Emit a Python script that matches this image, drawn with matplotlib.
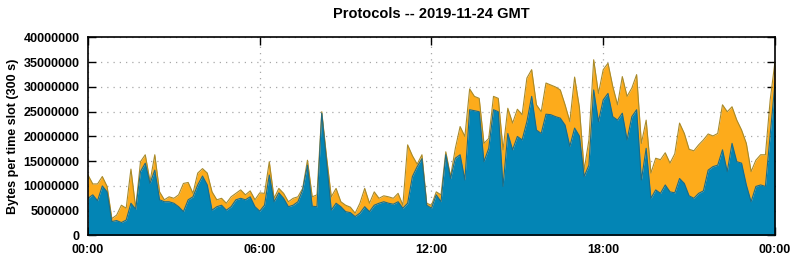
import numpy as np
import matplotlib
matplotlib.use("Agg")
import matplotlib.pyplot as plt

# bytes per 5-minute slot, read every 10 minutes (millions), 00:00 .. 24:00
blue_m = [
    7.5, 8.2, 7.0, 10.0, 8.8, 2.8, 3.0, 2.6, 3.1, 6.5, 5.3, 12.9,
    14.6, 10.5, 13.2, 7.2, 6.8, 6.8, 6.5, 5.8, 4.8, 7.2, 7.8, 10.2,
    12.0, 10.2, 5.1, 5.8, 6.1, 5.1, 5.8, 7.2, 7.5, 7.2, 7.8, 5.8,
    4.9, 6.1, 12.2, 6.8, 8.6, 7.5, 5.8, 6.1, 6.8, 9.2, 14.2, 5.9,
    5.8, 24.7, 14.9, 5.1, 6.5, 5.8, 4.8, 4.6, 3.8, 4.5, 5.8, 4.8,
    6.1, 6.5, 6.8, 6.5, 6.3, 6.8, 5.5, 6.5, 11.9, 13.9, 15.5, 6.1,
    5.5, 8.2, 6.8, 16.3, 11.5, 15.6, 16.3, 11.2, 25.4, 25.2, 25.0, 14.9,
    17.6, 25.4, 25.0, 9.9, 20.6, 17.3, 20.0, 19.3, 23.0, 28.1, 21.3, 20.6,
    24.5, 24.4, 24.0, 23.7, 22.3, 18.0, 21.7, 20.1, 11.9, 14.2, 29.4, 23.0,
    27.4, 28.7, 24.0, 23.3, 24.7, 19.3, 24.0, 25.4, 11.2, 17.6, 7.5, 9.2,
    8.5, 10.2, 8.8, 8.6, 11.5, 10.5, 8.0, 7.5, 8.5, 9.0, 13.2, 13.9,
    14.2, 17.3, 12.9, 18.6, 14.9, 14.6, 10.2, 6.8, 9.9, 10.2, 9.9, 20.3,
    30.8,
]
orange_m = [
    4.7, 2.2, 3.4, 1.9, 1.1, 0.6, 1.1, 3.5, 2.4, 6.9, 0.2, 2.0,
    1.7, 0.4, 3.1, 1.6, 0.4, 1.0, 1.0, 2.4, 5.7, 3.5, 0.7, 2.4,
    1.5, 2.4, 3.7, 1.4, 1.4, 1.4, 2.0, 1.3, 1.7, 1.0, 1.2, 1.4,
    3.7, 2.4, 2.7, 0.7, 0.9, 1.0, 1.0, 1.4, 1.0, 0.3, 1.0, 1.9,
    2.4, 0.3, 1.0, 2.7, 3.0, 1.0, 1.3, 1.1, 0.7, 2.0, 3.7, 1.7,
    2.7, 1.0, 1.2, 1.3, 1.2, 1.7, 0.6, 11.8, 4.2, 0.5, 0.8, 0.4,
    0.6, 0.6, 1.4, 0.6, 0.4, 2.0, 5.7, 8.8, 4.2, 2.9, 2.7, 3.7,
    2.0, 2.7, 2.7, 7.4, 5.1, 5.4, 5.5, 5.1, 8.8, 5.4, 5.1, 4.4,
    6.3, 6.0, 6.0, 5.7, 4.1, 5.0, 10.3, 5.8, 1.3, 5.1, 6.1, 5.7,
    6.1, 6.1, 6.1, 3.1, 7.4, 8.8, 5.8, 7.1, 7.4, 5.7, 5.1, 6.4,
    6.8, 6.5, 5.8, 7.9, 11.2, 10.1, 9.4, 9.6, 9.8, 10.3, 7.3, 6.2,
    6.4, 9.1, 12.1, 7.4, 8.4, 6.7, 8.4, 6.1, 5.3, 6.1, 6.4, 7.1,
    4.3,
]
hour_ticks = [0, 6, 12, 18, 24]
hour_labels = ["00:00", "06:00", "12:00", "18:00", "00:00"]

blue = np.array(blue_m) * 1e6
orange = np.array(orange_m) * 1e6
hours = np.arange(len(blue)) * 10 / 60.0
top = blue + orange

plt.rcParams["font.family"] = ["Liberation Sans", "DejaVu Sans"]
plt.rcParams["font.weight"] = "bold"

fig = plt.figure(figsize=(7.95, 2.6), dpi=100)
ax = fig.add_axes([0.1107, 0.0946, 0.8641, 0.7612])

ax.fill_between(hours, blue, top, color="#fdab1b", lw=0, zorder=2)
ax.plot(hours, top, color="#a88a2a", lw=0.8, zorder=2.2)
ax.fill_between(hours, 0, blue, color="#0385b5", lw=0, zorder=2.1)
ax.plot(hours, blue, color="#1d6b86", lw=0.8, zorder=2.3)

ax.set_xlim(0, 24)
ax.set_ylim(0, 40000000)
ax.set_xticks(hour_ticks)
ax.set_xticklabels(hour_labels)
ax.set_yticks(np.arange(0, 40000001, 5000000))
ax.set_yticklabels([str(v) for v in range(0, 40000001, 5000000)])
ax.tick_params(direction="in", length=6, width=1, top=True, right=True,
               labelsize=9, pad=6)
for lab in ax.get_xticklabels() + ax.get_yticklabels():
    lab.set_fontweight("bold")

ax.set_axisbelow(True)
ax.grid(True, color="#a8a8a8", lw=0.9, linestyle=(0, (1, 4)))
for s in ax.spines.values():
    s.set_linewidth(1.2)
    s.set_zorder(3)

ax.set_ylabel("Bytes per time slot (300 s)", fontsize=9, fontweight="bold",
              labelpad=3)
ax.set_title("Protocols -- 2019-11-24 GMT", fontsize=10.5,
             fontweight="bold", pad=14)

fig.savefig("out.png", dpi=100)
